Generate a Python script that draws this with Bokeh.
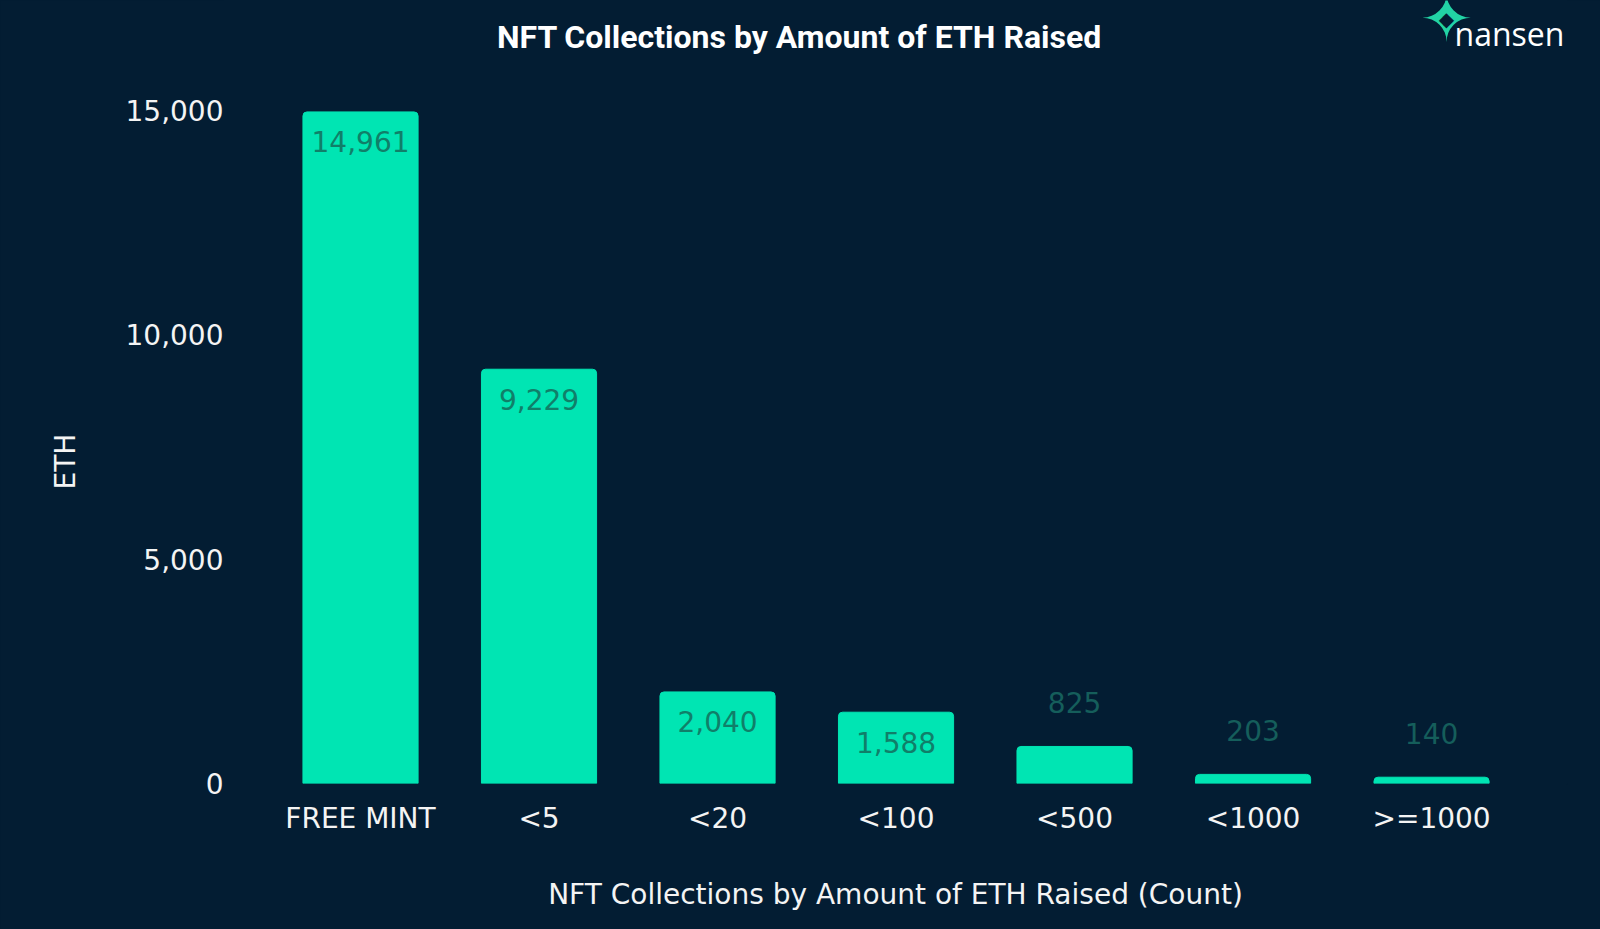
from bokeh.plotting import figure
from bokeh.models import Range1d, FixedTicker, Label, LabelSet, ColumnDataSource, Title
from bokeh.core.properties import value
from bokeh.embed import file_html
from bokeh.resources import INLINE

categories = ["FREE MINT", "<5", "<20", "<100", "<500", "<1000", ">=1000"]
counts = [14961, 9229, 2040, 1588, 825, 203, 140]
y_ticks = [0, 5000, 10000, 15000]

BG = "#031d33"
BAR = "#00e5b3"
IN_LABEL = "#107f69"
OUT_LABEL = "#155e5b"
TXT = "#f4f4f4"
FONT = "DejaVu Sans"
FS = "28px"

W, H = 1600, 929
L, R, T, B = 224, 1566, 0, 783   # plot frame edges (page pixels); frame reaches the top edge

xs = list(range(len(categories)))
inside = [v >= 1000 for v in counts]
src = ColumnDataSource(dict(
    x=xs,
    top=counts,
    text=[f"{v:,}" for v in counts],
    yoff=[-30 if i else 44 for i in inside],
    color=[IN_LABEL if i else OUT_LABEL for i in inside],
))

p = figure(width=W, height=H, output_backend="svg", toolbar_location=None,
           x_range=Range1d(-0.762, 6.756), y_range=Range1d(0, 17443),
           background_fill_color=BG, border_fill_color=BG,
           min_border_left=L, min_border_right=W - R, min_border_top=T,
           min_border_bottom=H - B)
p.outline_line_color = BG
p.outline_line_width = 3
p.styles = {"background-color": BG}

p.vbar(x="x", top="top", width=0.645, source=src, color=BAR,
       border_radius=(4, 4, 0, 0))

labels = LabelSet(x="x", y="top", text="text", y_offset="yoff", source=src,
                  text_color="color", text_align="center", text_baseline="middle",
                  text_font=value(FONT), text_font_size=value(FS))
p.add_layout(labels)

p.grid.visible = False

p.xaxis.ticker = FixedTicker(ticks=xs)
p.xaxis.major_label_overrides = {i: c for i, c in enumerate(categories)}
p.xaxis.axis_label = "NFT Collections by Amount of ETH Raised (Count)"
p.xaxis.axis_label_standoff = 40
p.xaxis.major_label_standoff = 18

p.yaxis.ticker = FixedTicker(ticks=y_ticks)
p.yaxis.major_label_overrides = {t: f"{t:,}" for t in y_ticks}
p.yaxis.major_label_standoff = 1

for ax in (p.xaxis[0], p.yaxis[0]):
    ax.axis_line_color = None
    ax.major_tick_line_color = None
    ax.minor_tick_line_color = None
    ax.major_tick_out = 0
    ax.major_tick_in = 0
    ax.major_label_text_color = TXT
    ax.major_label_text_font = FONT
    ax.major_label_text_font_size = FS
    ax.axis_label_text_color = TXT
    ax.axis_label_text_font = FONT
    ax.axis_label_text_font_size = FS
    ax.axis_label_text_font_style = "normal"

# y-axis title (as a side title so it can sit below the frame centre)
p.add_layout(Title(text="ETH", align="left", offset=294, standoff=81,
                   text_font=FONT, text_font_size=FS, text_font_style="normal",
                   text_color=TXT), "left")


def scr(px, py):
    """page pixel -> screen units relative to the frame's bottom-left"""
    return px - L, B - py


# chart title
x0, y0 = scr(799, 36)
p.add_layout(Label(x=x0, y=y0, x_units="screen", y_units="screen",
                   text="NFT Collections by Amount of ETH Raised",
                   text_align="center", text_baseline="middle",
                   text_color="#ffffff", text_font="Roboto", text_font_style="bold",
                   text_font_size="32px"))

# logo
x0, y0 = scr(1446, 18)
p.add_layout(Label(x=x0, y=y0, x_units="screen", y_units="screen", text="\u2726",
                   text_align="center", text_baseline="middle",
                   text_color="#22d3a5", text_font=FONT, text_font_size="64px"))
p.add_layout(Label(x=x0, y=y0, x_units="screen", y_units="screen", text="\u25c6",
                   text_align="center", text_baseline="middle",
                   text_color=BG, text_font=FONT, text_font_size="20px"))
x0, y0 = scr(1454, 33)
p.add_layout(Label(x=x0, y=y0, x_units="screen", y_units="screen", text="nansen",
                   text_align="left", text_baseline="alphabetic",
                   text_color="#ffffff", text_font="Open Sans", text_font_size="32px"))

open("out.html", "w").write(file_html(p, INLINE))
